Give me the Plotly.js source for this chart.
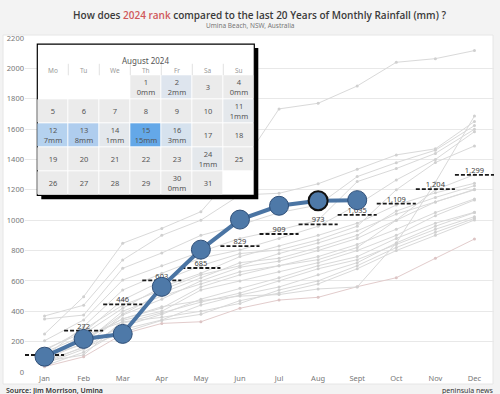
<!DOCTYPE html>
<html><head><meta charset="utf-8">
<script src="https://cdn.plot.ly/plotly-3.0.1.min.js"></script>
<style>html,body{margin:0;padding:0;background:#f3f3f3}#chart{width:500px;height:394px}</style>
</head><body><div id="chart"></div>
<script>
// ---------- DATA ----------
const months = ['Jan','Feb','Mar','Apr','May','Jun','Jul','Aug','Sept','Oct','Nov','Dec'];
const rain2024 = [101, 218, 251, 561, 806, 1004, 1095, 1128, 1132];
const avg20 = [112, 272, 446, 603, 685, 829, 909, 973, 1035, 1109, 1204, 1299];
const pastYears = [
  [250, 496, 848, 946, 1056, 1348, 1733, 1770, 1884, 2040, 2064, 2117],
  [369, 440, 738, 900, 1000, 1166, 1177, 1240, 1335, 1430, 1470, 1650],
  [349, 375, 683, 784, 900, 968, 1050, 1100, 1287, 1379, 1461, 1623],
  [206, 343, 606, 700, 792, 880, 935, 1000, 1254, 1340, 1440, 1599],
  [100, 300, 540, 650, 750, 804, 880, 960, 1100, 1265, 1400, 1583],
  [150, 260, 474, 600, 700, 780, 804, 870, 960, 1200, 1380, 1489],
  [80, 250, 420, 560, 650, 760, 830, 900, 980, 1100, 1180, 1243],
  [120, 200, 380, 520, 620, 720, 749, 820, 900, 1060, 1150, 1227],
  [60, 167, 375, 480, 600, 690, 730, 800, 880, 1000, 1120, 1203],
  [90, 220, 350, 421, 560, 640, 700, 760, 840, 940, 1050, 1140],
  [70, 112, 340, 400, 540, 600, 660, 720, 800, 900, 1030, 1133],
  [110, 180, 300, 380, 480, 551, 620, 700, 760, 880, 980, 1052],
  [40, 130, 280, 343, 441, 507, 560, 640, 720, 850, 960, 1050],
  [55, 150, 320, 390, 460, 520, 600, 680, 740, 840, 940, 1023],
  [130, 240, 330, 360, 400, 452, 540, 600, 700, 820, 920, 1012],
  [75, 160, 260, 340, 380, 470, 520, 580, 680, 800, 900, 1001],
  [35, 100, 250, 320, 331, 420, 474, 492, 562, 621, 749, 876],
  [100, 210, 350, 430, 470, 500, 510, 547, 560, 850, 1250, 1686],
  [85, 190, 400, 500, 580, 660, 700, 740, 820, 1000, 1200, 1300],
  [140, 280, 440, 540, 640, 700, 780, 850, 930, 1040, 1120, 1200]
];
const calTitle = 'August 2024';
const weekdays = ['Mo','Tu','We','Th','Fr','Sa','Su'];
const rainDays = [1, 2, 4, 11, 12, 13, 14, 15, 16, 24, 30];
const rainMm   = [0, 2, 0, 1, 7, 8, 1, 15, 3, 1, 0];
const calYear = 2024, calMonth = 7; // August (0-based)

// ---------- LAYOUT HELPERS ----------
const W = 500, H = 394, ML = 25, MR = 6, MT = 38, MB = 22;
const PW = W - ML - MR, PH = H - MT - MB;
const px = x => (x - ML) / PW;
const py = y => (H - MB - y) / PH;
const FONT = 'Noto Sans, Open Sans, sans-serif';

const traces = [];
const monthIdx = months.map((m, i) => i);

// past years (gray)
pastYears.forEach((s, k) => {
  traces.push({
    x: monthIdx, y: s, type: 'scatter', mode: 'lines+markers',
    line: {color: k === 16 ? '#e2cccc' : '#d9d9d9', width: 1},
    marker: {size: 3, color: k === 16 ? '#dcc4c4' : '#d0d0d0'},
    hoverinfo: 'skip', showlegend: false, xaxis: 'x', yaxis: 'y'
  });
});

// average dashes
const dx = [], dy = [];
avg20.forEach((v, i) => { dx.push(i - 0.5, i + 0.5, null); dy.push(v, v, null); });
traces.push({
  x: dx, y: dy, type: 'scatter', mode: 'lines',
  line: {color: '#1a1a1a', width: 1.8, dash: '4px,2px'},
  hoverinfo: 'skip', showlegend: false
});
// average labels
traces.push({
  x: monthIdx, y: avg20, type: 'scatter', mode: 'text',
  text: avg20.map(v => v.toLocaleString('en-US')), textposition: 'top center',
  textfont: {family: FONT, size: 7.5, color: '#444'},
  hoverinfo: 'skip', showlegend: false, cliponaxis: false
});
// 2024
traces.push({
  x: monthIdx.slice(0, rain2024.length), y: rain2024, type: 'scatter', mode: 'lines+markers',
  line: {color: '#4a74a3', width: 4},
  marker: {size: 19, color: '#4e79a8',
    line: {color: rain2024.map((v, i) => i === 7 ? '#111111' : '#2f4f78'),
           width: rain2024.map((v, i) => i === 7 ? 2 : 1)}},
  hoverinfo: 'skip', showlegend: false, cliponaxis: false
});

// ---------- CALENDAR ----------
const first = (new Date(calYear, calMonth, 1).getDay() + 6) % 7; // Monday-first
const nDays = new Date(calYear, calMonth + 1, 0).getDate();
const nRows = Math.ceil((first + nDays) / 7);
const z = [], txt = [];
for (let r = 0; r < nRows; r++) { z.push(new Array(7).fill(null)); txt.push(new Array(7).fill('')); }
for (let d = 1; d <= nDays; d++) {
  const idx = first + d - 1, r = Math.floor(idx / 7), c = idx % 7;
  const k = rainDays.indexOf(d);
  z[r][c] = k >= 0 ? rainMm[k] : 0;
  txt[r][c] = k >= 0 ? d + '<br>' + rainMm[k] + 'mm' : String(d);
}
traces.push({
  type: 'heatmap', x: [0,1,2,3,4,5,6], y: z.map((_, i) => i), z: z, text: txt,
  texttemplate: '%{text}', textfont: {family: FONT, size: 7.5, color: '#555'},
  zmin: 0, zmax: 15, showscale: false, xgap: 1, ygap: 1, hoverinfo: 'skip',
  colorscale: [[0, '#ebebeb'], [0.14, '#dde5ee'], [0.47, '#b5d2ef'], [0.54, '#aecdee'], [1, '#64a8e8']],
  xaxis: 'x2', yaxis: 'y2'
});

// calendar geometry (pixels)
const c0 = 52.8, cw = 31, r0 = 87.3, rh = 24;
const dL = 33, dR = 263, dT = 41, dB = 203;
const cx = p => (p - c0) / cw, ry = p => (p - r0) / rh;

const shapes = [
  // white panel
  {type: 'rect', xref: 'paper', yref: 'paper', x0: px(3), x1: px(493), y0: py(384), y1: py(35),
   fillcolor: '#ffffff', line: {color: '#e6e6e6', width: 1}, layer: 'below'},
  // shadow
  {type: 'rect', xref: 'x2', yref: 'y2', x0: -0.5 + 4/cw, x1: 6.5 + 4/cw, y0: -1.8 + 4/rh, y1: nRows - 0.5 + 4/rh,
   fillcolor: '#000000', line: {width: 0}, layer: 'below'},
  // box
  {type: 'rect', xref: 'x2', yref: 'y2', x0: -0.5, x1: 6.5, y0: -1.8, y1: nRows - 0.5,
   fillcolor: '#ffffff', line: {color: '#000000', width: 1.2}, layer: 'below'}
];
for (let c = 1; c < 7; c++) {
  shapes.push({type: 'line', xref: 'x2', yref: 'y2', x0: c - 0.5, x1: c - 0.5, y0: -0.98, y1: -0.5,
    line: {color: '#e2e2e2', width: 1}, layer: 'below'});
}

const annotations = [
  {xref: 'x2', yref: 'y2', x: 3, y: ry(60.7), text: calTitle, showarrow: false,
   font: {family: FONT, size: 8, color: '#555'}},
  {xref: 'paper', yref: 'paper', x: px(250), y: py(26), yanchor: 'middle', text: 'Umina Beach, NSW, Australia', showarrow: false,
   font: {family: FONT, size: 6.5, color: '#777'}},
  {xref: 'paper', yref: 'paper', x: px(4), y: py(390), xanchor: 'left', yanchor: 'middle', text: 'Source: Jim Morrison, Umina', showarrow: false,
   font: {family: FONT, size: 7, color: '#333', weight: 600}},
  {xref: 'paper', yref: 'paper', x: px(496), y: py(390), xanchor: 'right', yanchor: 'middle', text: 'peninsula news', showarrow: false,
   font: {family: FONT, size: 7, color: '#333'}}
];
weekdays.forEach((d, i) => annotations.push({xref: 'x2', yref: 'y2', x: i, y: ry(70.7), text: d, showarrow: false,
  font: {family: FONT, size: 6.5, color: '#999'}}));

const layout = {
  width: W, height: H, margin: {l: ML, r: MR, t: MT, b: MB},
  paper_bgcolor: '#f3f3f3', plot_bgcolor: 'rgba(0,0,0,0)',
  title: {text: 'How does <span style="color:#d0575a">2024 rank</span> compared to the last 20 Years of Monthly Rainfall (mm) ?',
    x: 0.5, xref: 'paper', y: 1 - 15/H, yref: 'container', yanchor: 'middle', xanchor: 'center',
    font: {family: 'Open Sans, Noto Sans, sans-serif', size: 10, color: '#3a3a3a', weight: 600}},
  showlegend: false, hovermode: false,
  xaxis: {range: [-0.5, 11.5], tickvals: monthIdx, ticktext: months, showgrid: false, zeroline: false,
    ticks: '', tickfont: {family: FONT, size: 7.5, color: '#777'}, fixedrange: true},
  yaxis: {range: [0, 2200], dtick: 200, gridcolor: '#e8e8e8', gridwidth: 1, zeroline: false, ticks: '',
    tickfont: {family: FONT, size: 7.5, color: '#777'}, fixedrange: true},
  xaxis2: {domain: [px(dL), px(dR)], range: [cx(dL), cx(dR)], anchor: 'y2', visible: false, showgrid: false, zeroline: false},
  yaxis2: {domain: [py(dB), py(dT)], range: [ry(dB), ry(dT)], anchor: 'x2', visible: false, showgrid: false, zeroline: false},
  shapes: shapes, annotations: annotations
};

Plotly.newPlot('chart', traces, layout, {staticPlot: true, displayModeBar: false});
</script></body></html>
